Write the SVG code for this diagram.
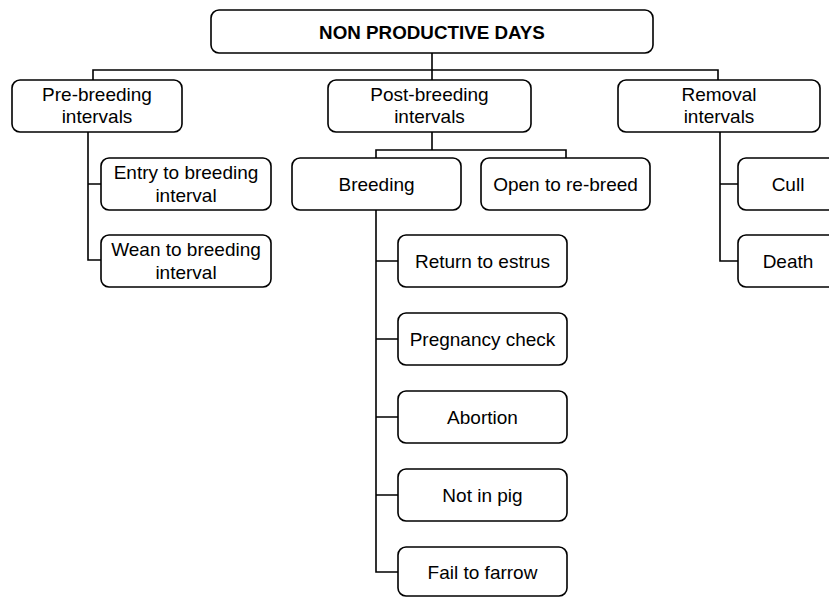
<svg xmlns="http://www.w3.org/2000/svg" width="829" height="597" viewBox="0 0 829 597">
<style>
.box{fill:#fff;stroke:#000;stroke-width:1.6}
.t{font-family:"Liberation Sans",Arial,sans-serif;font-size:19px;text-anchor:middle;fill:#000}
.title{font-weight:bold;font-size:18.8px}
.c{fill:none;stroke:#000;stroke-width:1.6}
</style>
<rect width="829" height="597" fill="#fff"/>
<g id="connectors">
<path class="c" d="M432 53V80M93 80V70H718V80"/>
<path class="c" d="M88 132V260H101M88 184H101"/>
<path class="c" d="M432 132V150M376 158V150H566V158"/>
<path class="c" d="M376 210V572H398M376 261H398M376 339H398M376 417H398M376 495H398"/>
<path class="c" d="M720 132V261H738M720 184H738"/>
</g>
<g id="root"><rect class="box" x="211" y="10" width="442" height="43" rx="8"/><text class="t title" x="432" y="39">NON PRODUCTIVE DAYS</text></g>
<g id="pre"><rect class="box" x="12" y="80" width="170" height="52" rx="8"/><text class="t" x="97" y="101">Pre-breeding</text><text class="t" x="97" y="123">intervals</text></g>
<g id="post"><rect class="box" x="328" y="80" width="203" height="52" rx="8"/><text class="t" x="429.5" y="101">Post-breeding</text><text class="t" x="429.5" y="123">intervals</text></g>
<g id="removal"><rect class="box" x="618" y="80" width="202" height="52" rx="8"/><text class="t" x="719" y="101">Removal</text><text class="t" x="719" y="123">intervals</text></g>
<g id="entry"><rect class="box" x="101" y="158" width="170" height="52" rx="8"/><text class="t" x="186" y="179">Entry to breeding</text><text class="t" x="186" y="202">interval</text></g>
<g id="wean"><rect class="box" x="101" y="235" width="170" height="52" rx="8"/><text class="t" x="186" y="256">Wean to breeding</text><text class="t" x="186" y="279">interval</text></g>
<g id="breeding"><rect class="box" x="292" y="158" width="169" height="52" rx="8"/><text class="t" x="376.5" y="191">Breeding</text></g>
<g id="open"><rect class="box" x="481" y="158" width="169" height="52" rx="8"/><text class="t" x="565.5" y="191">Open to re-breed</text></g>
<g id="return"><rect class="box" x="398" y="235" width="169" height="52" rx="8"/><text class="t" x="482.5" y="268">Return to estrus</text></g>
<g id="pregnancy"><rect class="box" x="398" y="313" width="169" height="52" rx="8"/><text class="t" x="482.5" y="346">Pregnancy check</text></g>
<g id="abortion"><rect class="box" x="398" y="391" width="169" height="52" rx="8"/><text class="t" x="482.5" y="424">Abortion</text></g>
<g id="notinpig"><rect class="box" x="398" y="469" width="169" height="52" rx="8"/><text class="t" x="482.5" y="502">Not in pig</text></g>
<g id="fail"><rect class="box" x="398" y="547" width="169" height="49" rx="8"/><text class="t" x="482.5" y="579">Fail to farrow</text></g>
<g id="cull"><rect class="box" x="738" y="158" width="170" height="52" rx="8"/><text class="t" x="788" y="191">Cull</text></g>
<g id="death"><rect class="box" x="738" y="235" width="170" height="52" rx="8"/><text class="t" x="788" y="268">Death</text></g>
</svg>
